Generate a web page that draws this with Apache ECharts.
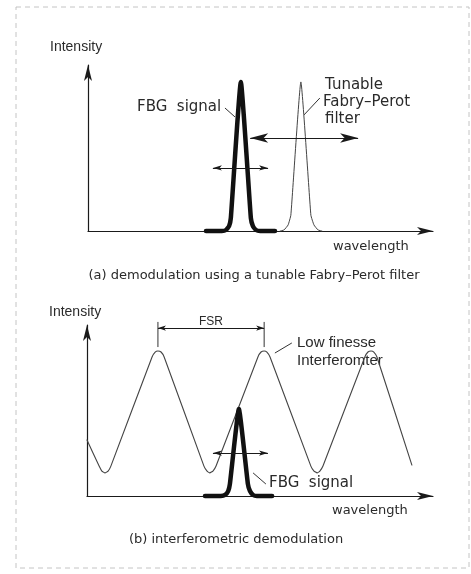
<!DOCTYPE html>
<html>
<head>
<meta charset="utf-8">
<script src="https://cdn.jsdelivr.net/npm/echarts@6/dist/echarts.min.js"></script>
<style>html,body{margin:0;padding:0;background:#fff}#c{width:471px;height:574px}</style>
</head>
<body>
<div id="c"></div>
<script>
// ---- data (arbitrary units: wavelength 0-100, intensity 0-100) ----
// Panel (a)
var fbgA = [[34.2,0],[38.8,0],[40.0,0.6],[40.9,3.0],[41.4,7.8],[44.3,89.8],[47.2,7.8],[47.8,3.0],[48.7,0.6],[49.9,0],[54.2,0]];
var filterA = [[55.7,0],[56.8,0.6],[58.0,3.6],[58.8,9.6],[61.7,89.8],[64.6,9.6],[65.5,3.6],[66.7,0.6],[67.8,0]];
var tuneArrowA = [[47.0,56.0],[78.3,56.0]];
var widthArrowA = [[36.2,38.0],[52.2,38.0]];
var leaderFbgA = [[39.7,74.1],[42.6,68.7]];
var leaderFilterA = [[62.6,69.9],[67.2,80.1]];
// Panel (b)
var interf = [[0,32.7],[3.5,17.5],[4.3,14.6],[5.2,13.5],[6.1,14.6],[6.9,17.5],
  [18.8,81.3],[19.7,84.2],[20.5,84.8],[21.4,84.2],[22.3,81.3],
  [33.8,17.5],[34.7,14.6],[35.5,13.5],[36.4,14.6],[37.3,17.5],
  [49.4,81.3],[50.3,84.2],[51.2,84.8],[52.0,84.2],[52.9,81.3],
  [64.7,17.5],[65.6,14.6],[66.5,13.5],[67.3,14.6],[68.2,17.5],
  [80.3,81.3],[81.2,84.2],[82.1,84.8],[82.9,84.2],[83.8,81.3],
  [93.9,18.1]];
var fbgB = [[34.1,0],[38.7,0],[39.9,0.6],[40.8,2.9],[41.3,7.0],[43.9,50.9],[46.5,7.0],[47.1,2.9],[48.0,0.6],[49.1,0],[53.5,0]];
var widthArrowB = [[36.4,25.1],[52.3,25.1]];
var fsrArrow = [[20.5,98.2],[51.2,98.2]];
var fsrTickL = [[20.5,101.8],[20.5,87.1]];
var fsrTickR = [[51.2,101.8],[51.2,87.1]];
var leaderFbgB = [[48.0,13.5],[51.7,7.0]];
var leaderInterf = [[54.3,83.6],[59.2,89.5]];

var TXT = '#2a2a2a';
var CAD = 'DejaVu Sans';

var chart = echarts.init(document.getElementById('c'), null, {renderer:'canvas'});

function axisX(gi){
  return {gridIndex:gi,type:'value',min:0,max:100,
    axisLine:{show:true,symbol:['none','arrow'],symbolSize:[6,16],lineStyle:{color:'#1a1a1a',width:1.2}},
    axisTick:{show:false},axisLabel:{show:false},splitLine:{show:false}};
}
function axisY(gi){
  return {gridIndex:gi,type:'value',min:0,max:100,
    axisLine:{show:true,symbol:['none','arrow'],symbolSize:[6,16],lineStyle:{color:'#1a1a1a',width:1.2}},
    axisTick:{show:false},axisLabel:{show:false},splitLine:{show:false}};
}
function curve(gi,data,w,color){
  return {type:'line',xAxisIndex:gi,yAxisIndex:gi,data:data,showSymbol:false,symbol:'none',
    clip:false,silent:true,smooth:0.12,lineStyle:{width:w,color:color,join:'round',cap:'round'},z:3};
}
function seg(gi,data,w){
  return {type:'line',xAxisIndex:gi,yAxisIndex:gi,data:data,showSymbol:false,symbol:'none',
    clip:false,silent:true,lineStyle:{width:w,color:'#333'},z:2};
}
function arrow(gi,data,size,w){
  return {type:'line',xAxisIndex:gi,yAxisIndex:gi,data:[],clip:false,silent:true,
    markLine:{silent:true,symbol:['arrow','arrow'],symbolSize:size,label:{show:false},
      lineStyle:{type:'solid',color:'#1a1a1a',width:w},
      data:[[{coord:data[0]},{coord:data[1]}]]}};
}
function txt(x,y,s,opt){
  opt = opt||{};
  return {type:'text',x:x,y:y,silent:true,style:{text:s,fill:TXT,
    font:(opt.weight||'normal')+' '+(opt.size||15)+'px '+(opt.family||CAD),
    textAlign:opt.align||'left',textVerticalAlign:'middle'}};
}

chart.setOption({
  animation:false,
  backgroundColor:'#ffffff',
  grid:[{left:88,top:65,width:345,height:166},{left:87,top:325,width:346,height:171}],
  xAxis:[axisX(0),axisX(1)],
  yAxis:[axisY(0),axisY(1)],
  series:[
    curve(0,fbgA,4.5,'#111'),
    curve(0,filterA,1,'#444'),
    arrow(0,tuneArrowA,[7,18],1),
    arrow(0,widthArrowA,[4,9],1),
    seg(0,leaderFbgA,1),
    seg(0,leaderFilterA,1),
    curve(1,interf,1.1,'#444'),
    curve(1,fbgB,4.5,'#111'),
    arrow(1,widthArrowB,[4,9],1),
    arrow(1,fsrArrow,[4,8],1),
    seg(1,fsrTickL,1),
    seg(1,fsrTickR,1),
    seg(1,leaderFbgB,1),
    seg(1,leaderInterf,1)
  ],
  graphic:[
    {type:'rect',shape:{x:16,y:7,width:453,height:561},silent:true,
      style:{fill:'none',stroke:'#c4c4c4',lineWidth:1,lineDash:[5,4]}},
    txt(50,47,'Intensity',{family:'Liberation Sans',size:14}),
    txt(137,107,'FBG  signal'),
    txt(325,85,'Tunable'),
    txt(323,102,'Fabry\u2013Perot'),
    txt(325,119,'filter'),
    txt(333,247,'wavelength',{size:13}),
    txt(254,276,'(a) demodulation using a tunable Fabry\u2013Perot filter',{align:'center',size:13}),
    txt(49,312,'Intensity',{family:'Liberation Sans',size:14}),
    txt(211,322,'FSR',{family:'Liberation Sans',size:12,align:'center'}),
    txt(297,343,'Low finesse',{family:'Liberation Sans',size:15}),
    txt(297,361,'Interferomter',{family:'Liberation Sans',size:15}),
    txt(269,483,'FBG  signal'),
    txt(332,511,'wavelength',{size:13}),
    txt(236,540,'(b) interferometric demodulation',{align:'center',size:13})
  ]
});
</script>
</body>
</html>
